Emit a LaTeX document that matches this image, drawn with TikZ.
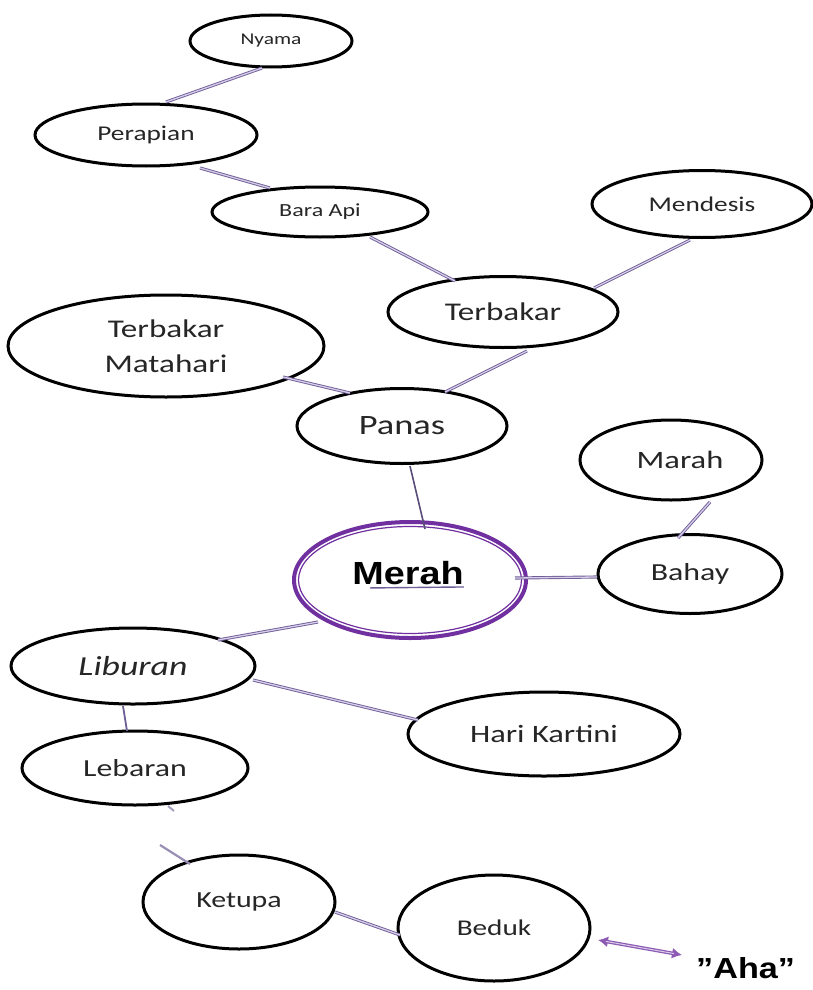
\documentclass[tikz,border=0pt]{standalone}
\usepackage{fontspec}
\setmainfont{Carlito}[FakeStretch=1.3]
\newfontfamily\arialw{Liberation Sans}[FakeStretch=1.18]
\usetikzlibrary{shapes.geometric,arrows.meta,calc}
\definecolor{vio}{RGB}{112,48,160}
\definecolor{lnk}{RGB}{110,95,150}
\definecolor{lnkin}{RGB}{215,205,235}
\newcommand{\fsz}[1]{\fontsize{#1}{35}\selectfont}
\tikzset{
  bub/.style={ellipse, draw=black, line width=3pt, fill=white, inner sep=0pt, align=center, text=black!85},
  lk/.style={draw=lnk, double=lnkin, double distance=1.3pt, line width=0.9pt},
}
\begin{document}
\begin{tikzpicture}[x=1pt,y=-1pt]
\useasboundingbox (0,0) rectangle (812,990);
\coordinate (Nyc) at (271,41);
\coordinate (Pec) at (146,135);
\coordinate (Bac) at (320,212);
\coordinate (Mec) at (702,204);
\coordinate (Tec) at (503,312);
\coordinate (TMc) at (166,346);
\coordinate (Pac) at (402,426);
\coordinate (Mac) at (671,460);
\coordinate (Mrc) at (410,580);
\coordinate (Bhc) at (690,574);
\coordinate (Lic) at (133,666);
\coordinate (Hkc) at (544,734);
\coordinate (Lec) at (135,768);
\coordinate (Kec) at (239,902);
\coordinate (Bec) at (494,928);

\node[bub, minimum width=162pt, minimum height=52pt, font=\fsz{16.5}] (nyama) at (Nyc) {Nyama};
\node[bub, minimum width=222pt, minimum height=62pt, font=\fsz{21}] (perapian) at (Pec) {\raisebox{-2pt}{Perapian}};
\node[bub, minimum width=216pt, minimum height=50pt, font=\fsz{18.5}] (bara) at (Bac) {Bara Api};
\node[bub, minimum width=220pt, minimum height=67pt, font=\fsz{21}] (mendesis) at (Mec) {Mendesis};
\node[bub, minimum width=230pt, minimum height=71pt, font=\fsz{25.5}] (terbakar) at (Tec) {Terbakar};
\node[bub, minimum width=316pt, minimum height=102pt, font=\fsz{25.5}] (tm) at (TMc) {Terbakar\\Matahari};
\node[bub, minimum width=210pt, minimum height=75pt, font=\fsz{28}] (panas) at (Pac) {Panas};
\node[bub, minimum width=182pt, minimum height=80pt, font=\fsz{25}] (marah) at (Mac) {\hspace*{18pt}Marah};
\node[bub, minimum width=184pt, minimum height=79pt, font=\fsz{24.5}] (bahay) at (Bhc) {Bahay};
\node[bub, minimum width=244pt, minimum height=76pt, font=\fsz{27.5}\itshape] (liburan) at (Lic) {Liburan};
\node[bub, minimum width=272pt, minimum height=84pt, font=\fsz{25}] (hari) at (Hkc) {Hari Kartini};
\node[bub, minimum width=226pt, minimum height=74pt, font=\fsz{24.5}] (lebaran) at (Lec) {Lebaran};
\node[bub, minimum width=192pt, minimum height=94pt, font=\fsz{23}] (ketupa) at (Kec) {Ketupa};
\node[bub, minimum width=192pt, minimum height=106pt, font=\fsz{22.5}] (beduk) at (Bec) {Beduk};
% Merah
\node[ellipse, draw=vio, line width=4pt, fill=white, minimum width=232pt, minimum height=116pt, inner sep=0pt] (merah) at (Mrc) {};
\node[ellipse, draw=vio, line width=1.2pt, minimum width=223pt, minimum height=107pt, inner sep=0pt] (merahin) at (Mrc) {};
\node[inner sep=0pt, font=\arialw\bfseries\fontsize{32}{36}\selectfont] (merahtxt) at (408,573) {Merah};
\coordinate (ul1) at ($(merahtxt.south west)+(18,3)$);
\coordinate (ul2) at ($(merahtxt.south east)+(0,2)$);
\draw[lnk, line width=1.4pt] (ul1) -- (ul2);

% links
\draw[lk] (262,68) coordinate (c1) -- (166,102) coordinate (c2);
\draw[lk] (200,168) coordinate (c3) -- (270,188) coordinate (c4);
\draw[lk] (370,237) coordinate (c5) -- (455,281) coordinate (c6);
\draw[lk] (594,288) coordinate (c7) -- (690,240) coordinate (c8);
\draw[lk] (527,351) coordinate (c9) -- (445,392) coordinate (c10);
\draw[lk] (283,377) coordinate (c11) -- (350,393) coordinate (c12);
\draw[draw=lnk!80!black, line width=1.6pt] (410,466) coordinate (c13) -- (425,529) coordinate (c14);
\draw[lk] (710,502) coordinate (c15) -- (678,538) coordinate (c16);
\draw[lk] (515,578) coordinate (c17) -- (597,577) coordinate (c18);
\draw[lk] (318,622) coordinate (c19) -- (218,640) coordinate (c20);
\draw[lk] (253,680) coordinate (c21) -- (418,720) coordinate (c22);
\draw[draw=lnk, line width=1.8pt] (123,706) coordinate (c23) -- (127,731) coordinate (c24);
\draw[draw=lnk!60, line width=2pt] (168,806) coordinate (c25) -- (174,811) coordinate (c26);
\draw[draw=lnk!70, line width=2.2pt] (160,845) coordinate (c27) -- (190,864) coordinate (c28);
\draw[lk] (335,912) coordinate (c29) -- (400,935) coordinate (c30);
% Aha arrow
\coordinate (a1) at (598,940);
\coordinate (a2) at (682,955);
\draw[vio!80, line width=3.5pt, {Latex[length=10pt,width=11pt]}-{Latex[length=10pt,width=11pt]}] (a1) -- (a2);
\draw[lnkin, line width=1pt, shorten <=8pt, shorten >=8pt] (a1) -- (a2);
\node[anchor=west, inner sep=0pt, font=\arialw\bfseries\fontsize{29}{32}\selectfont] (aha) at (696,968) {”Aha”};
\end{tikzpicture}
\end{document}
